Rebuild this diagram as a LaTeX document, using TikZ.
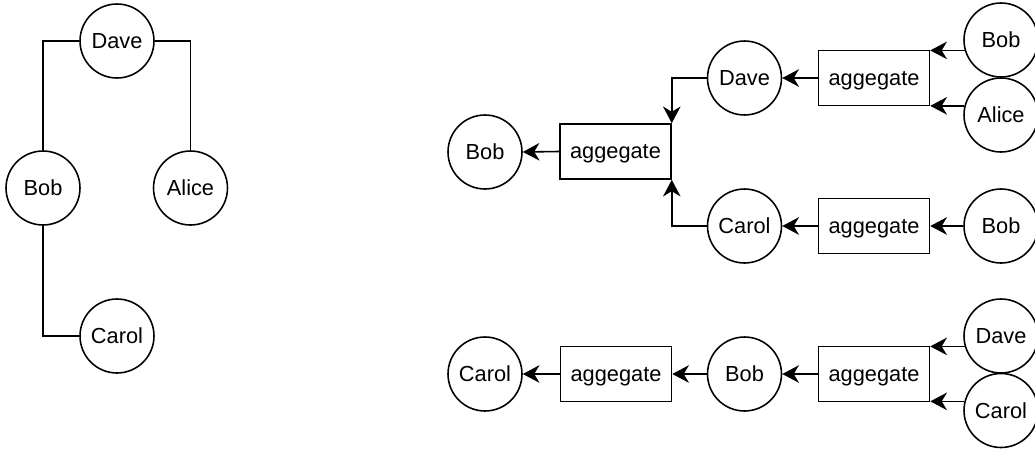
\documentclass[tikz,border=0pt]{standalone}
\usepackage{fontspec}
\setmainfont{Liberation Sans}
\usetikzlibrary{arrows.meta}

\tikzset{
	person/.style={draw, circle, line width=0.9pt, minimum size=1.48cm, inner sep=0pt, font=\fontsize{12.4}{15}\selectfont},
	aggbox/.style={draw, rectangle, line width=0.9pt, minimum width=2.22cm, minimum height=1.1cm, inner sep=0pt, text height=10pt, text depth=2pt, font=\fontsize{12.4}{15}\selectfont},
	link/.style={line width=0.9pt},
	flow/.style={line width=0.9pt, -{Stealth[length=9.5pt, width=10pt, inset=3pt]}}
}

\begin{document}
\begin{tikzpicture}[x=0.02cm, y=-0.02cm]
		%%%%% START %%%%%
		
		\useasboundingbox (0, 0) rectangle (1035, 450);
		
		% tree
		\node[person] (dave) at (117, 41) {Dave};
		\node[person] (bob) at (43, 188) {Bob};
		\node[person] (alice) at (190.5, 188) {Alice};
		\node[person] (carol) at (117, 336) {Carol};
		
		\draw[link] (dave.west) -| (bob.north);
		\draw[link] (dave.east) -| (alice.north);
		\draw[link] (bob.south) |- (carol.west);
		
		% first flow
		\node[person] (bobA) at (485, 152) {Bob};
		\node[aggbox] (aggA) at (615.5, 151.5) {aggegate};
		\node[person] (daveA) at (744.5, 78) {Dave};
		\node[aggbox] (aggB) at (874, 78) {aggegate};
		\node[person] (bobB) at (1001, 40) {Bob};
		\node[person] (aliceB) at (1001, 115) {Alice};
		\node[person] (carolA) at (744.5, 226) {Carol};
		\node[aggbox] (aggC) at (874, 226) {aggegate};
		\node[person] (bobC) at (1001, 226) {Bob};
		
		\draw[flow] (aggA.west) -- (bobA.east);
		\draw[flow] (daveA.west) -| (aggA.north east);
		\draw[flow] (carolA.west) -| (aggA.south east);
		\draw[flow] (aggB.west) -- (daveA.east);
		\draw[flow] (bobB.196) -- (bobB.196 -| aggB.east);
		\draw[flow] (aliceB.166) -- (aliceB.166 -| aggB.east);
		\draw[flow] (aggC.west) -- (carolA.east);
		\draw[flow] (bobC.west) -- (aggC.east);
		
		% second flow
		\node[person] (carolD) at (485, 374) {Carol};
		\node[aggbox] (aggD) at (616, 374) {aggegate};
		\node[person] (bobD) at (744.5, 374) {Bob};
		\node[aggbox] (aggE) at (874, 374) {aggegate};
		\node[person] (daveE) at (1001, 336) {Dave};
		\node[person] (carolE) at (1001, 410.5) {Carol};
		
		\draw[flow] (aggD.west) -- (carolD.east);
		\draw[flow] (bobD.west) -- (aggD.east);
		\draw[flow] (aggE.west) -- (bobD.east);
		\draw[flow] (daveE.196) -- (daveE.196 -| aggE.east);
		\draw[flow] (carolE.166) -- (carolE.166 -| aggE.east);
		
		%%%%% END %%%%%
	\end{tikzpicture}
\end{document}
